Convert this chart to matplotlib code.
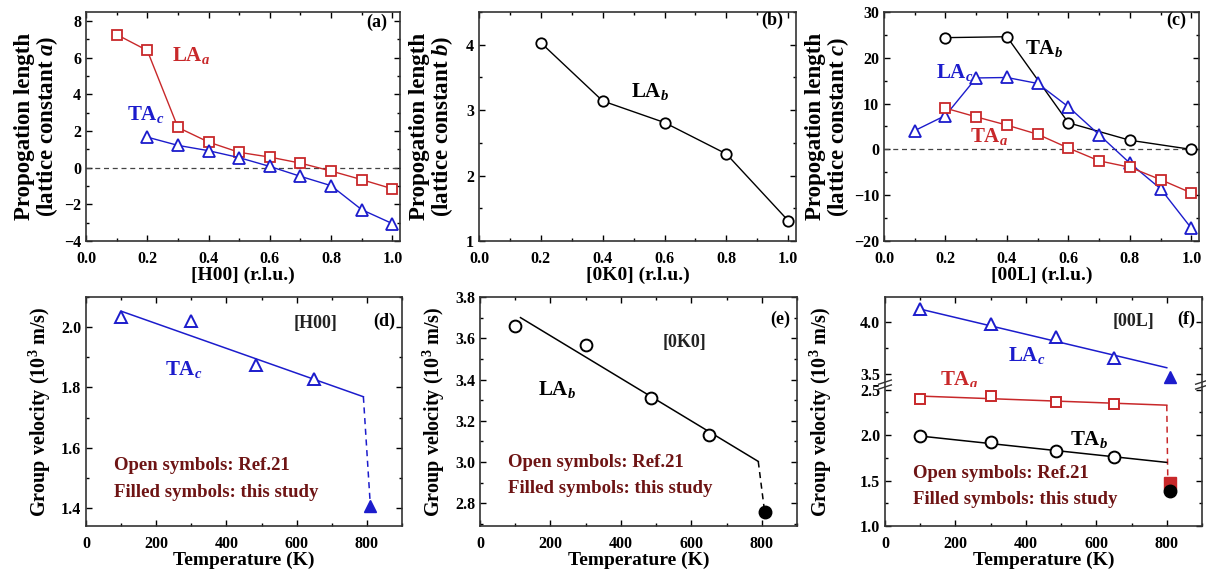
import numpy as np
import matplotlib.pyplot as plt
from matplotlib.ticker import MultipleLocator

plt.rcParams['font.family'] = ['Liberation Serif', 'DejaVu Serif']
plt.rcParams['font.weight'] = 'bold'
plt.rcParams['mathtext.fontset'] = 'custom'
plt.rcParams['mathtext.rm'] = 'Liberation Serif:bold'
plt.rcParams['mathtext.it'] = 'Liberation Serif:bold:italic'
plt.rcParams['mathtext.bf'] = 'Liberation Serif:bold'

RED = '#c8282a'
BLUE = '#1c1ccc'
NOTE = '#6e1414'

# propagation length vs wave vector
q_a_la = [0.1, 0.2, 0.3, 0.4, 0.5, 0.6, 0.7, 0.8, 0.9, 1.0]
la_a = [7.27, 6.4, 2.2, 1.4, 0.84, 0.58, 0.25, -0.18, -0.65, -1.15]
q_a_ta = [0.2, 0.3, 0.4, 0.5, 0.6, 0.7, 0.8, 0.9, 1.0]
ta_c_h00 = [1.67, 1.22, 0.93, 0.55, 0.07, -0.47, -0.98, -2.29, -3.05]

q_b = [0.2, 0.4, 0.6, 0.8, 1.0]
la_b = [4.03, 3.14, 2.81, 2.33, 1.31]

q_c_tb = [0.2, 0.4, 0.6, 0.8, 1.0]
ta_b = [24.4, 24.6, 5.8, 2.0, 0.0]
q_c_la = [0.1, 0.2, 0.3, 0.4, 0.5, 0.6, 0.7, 0.8, 0.9, 1.0]
la_c = [4.1, 7.4, 15.6, 15.7, 14.4, 9.3, 3.2, -3.0, -8.6, -17.2]
q_c_ta = [0.2, 0.3, 0.4, 0.5, 0.6, 0.7, 0.8, 0.9, 1.0]
ta_a = [9.0, 7.1, 5.3, 3.3, 0.3, -2.5, -3.9, -6.6, -9.5]

# group velocity vs temperature
T_open = [100, 300, 485, 650]
T_fit = [100, 790]
T_filled = 810

vg_ta_c = [2.033, 2.022, 1.875, 1.828]
fit_ta_c = [2.053, 1.769]
new_ta_c = 1.405

vg_la_b = [3.658, 3.565, 3.311, 3.131]
fit_la_b = [3.70, 3.003]
new_la_b = 2.76

vg_la_c = [4.117, 3.978, 3.851, 3.658]
fit_la_c = [4.12, 3.563]
new_la_c = 3.478
vg_ta_a = [2.40, 2.434, 2.37, 2.34]
fit_ta_a = [2.43, 2.33]
new_ta_a = 1.477
vg_ta_b = [1.99, 1.92, 1.83, 1.76]
fit_ta_b = [1.99, 1.70]
new_ta_b = 1.388

W, H = 1206, 572
fig = plt.figure(figsize=(W / 100, H / 100), dpi=100)


def box(l, t, r, b):
    return [l / W, 1 - b / H, (r - l) / W, (b - t) / H]


def style(ax, xmaj, xmin, ymaj, ymin, top=True, bottom=True):
    ax.xaxis.set_major_locator(MultipleLocator(xmaj))
    ax.xaxis.set_minor_locator(MultipleLocator(xmin))
    ax.yaxis.set_major_locator(MultipleLocator(ymaj))
    ax.yaxis.set_minor_locator(MultipleLocator(ymin))
    ax.tick_params(which='both', direction='in', top=top, bottom=bottom,
                   right=True, left=True, labelsize=11.5, width=1)
    ax.tick_params(which='major', length=4)
    ax.tick_params(which='minor', length=2)
    ax.tick_params(axis='x', pad=7)
    for s in ax.spines.values():
        s.set_linewidth(1.2)
        s.set_color('#333333')


def qlabels(ax, name):
    ax.set_xlim(0, 1.025)
    ax.set_xticks(np.arange(0, 1.01, 0.2))
    ax.set_xticklabels(['%.1f' % v for v in np.arange(0, 1.01, 0.2)])
    ax.set_xlabel(name + ' (r.l.u.)', fontsize=14, fontweight='bold', labelpad=0)


line_kw = dict(lw=1.0)
YL = 16.5

# (a)
ax = fig.add_axes(box(86, 12, 400, 241))
ax.axhline(0, color='#444444', lw=0.9, ls=(0, (4, 3)))
ax.plot(q_a_la, la_a, color=RED, marker='s', mfc='white', mec=RED, ms=7, mew=1.3, **line_kw)
ax.plot(q_a_ta, ta_c_h00, color=BLUE, marker='^', mfc='white', mec=BLUE, ms=8, mew=1.3, **line_kw)
ax.set_ylim(-4, 8.5)
style(ax, 0.2, 0.1, 2, 1)
qlabels(ax, '[H00]')
ax.set_ylabel('Propogation length\n(lattice constant $a$)', fontsize=YL, fontweight='bold',
              linespacing=0.95, labelpad=3)
ax.text(0.28, 5.8, r'LA$_{\it{a}}$', color=RED, fontsize=15, fontweight='bold')
ax.text(0.135, 2.6, r'TA$_{\it{c}}$', color=BLUE, fontsize=15, fontweight='bold')
ax.text(0.985, 7.7, '(a)', ha='right', fontsize=13, fontweight='bold')

# (b)
ax = fig.add_axes(box(479, 12, 796, 241))
ax.plot(q_b, la_b, color='black', marker='o', mfc='white', mec='black', ms=7.5, mew=1.3, **line_kw)
ax.set_ylim(1, 4.5)
style(ax, 0.2, 0.1, 1, 0.5)
qlabels(ax, '[0K0]')
ax.set_ylabel('Propogation length\n(lattice constant $b$)', fontsize=YL, fontweight='bold',
              linespacing=0.95, labelpad=8)
ax.text(0.49, 3.2, r'LA$_{\it{b}}$', color='black', fontsize=15, fontweight='bold')
ax.text(0.985, 4.3, '(b)', ha='right', fontsize=13, fontweight='bold')

# (c)
ax = fig.add_axes(box(884, 12, 1199, 241))
ax.axhline(0, color='#444444', lw=0.9, ls=(0, (4, 3)))
ax.plot(q_c_tb, ta_b, color='black', marker='o', mfc='white', mec='black', ms=7.5, mew=1.3, **line_kw)
ax.plot(q_c_la, la_c, color=BLUE, marker='^', mfc='white', mec=BLUE, ms=8, mew=1.3, **line_kw)
ax.plot(q_c_ta, ta_a, color=RED, marker='s', mfc='white', mec=RED, ms=7, mew=1.3, **line_kw)
ax.set_ylim(-20, 30)
style(ax, 0.2, 0.1, 10, 5)
qlabels(ax, '[00L]')
ax.set_ylabel('Propogation length\n(lattice constant $c$)', fontsize=YL, fontweight='bold',
              linespacing=0.95, labelpad=2)
ax.text(0.46, 20.8, r'TA$_{\it{b}}$', color='black', fontsize=15, fontweight='bold')
ax.text(0.17, 15.6, r'LA$_{\it{c}}$', color=BLUE, fontsize=15, fontweight='bold')
ax.text(0.28, 1.6, r'TA$_{\it{a}}$', color=RED, fontsize=15, fontweight='bold')
ax.text(0.985, 27.2, '(c)', ha='right', fontsize=13, fontweight='bold')


def tlabels(ax):
    ax.set_xlim(0, 900)
    ax.set_xlabel('Temperature (K)', fontsize=14, fontweight='bold', labelpad=0)


vlabel = r'Group velocity (10$^{\mathbf{3}}$ m/s)'
VL = 14.5


def notes(ax, y1, y2):
    ax.text(80, y1, 'Open symbols: Ref.21', color=NOTE, fontsize=13.5, fontweight='bold', va='center')
    ax.text(80, y2, 'Filled symbols: this study', color=NOTE, fontsize=13.5, fontweight='bold', va='center')


# (d)
ax = fig.add_axes(box(86, 297, 402, 526))
ax.plot(T_fit, fit_ta_c, color=BLUE, lw=1.1)
ax.plot([T_fit[1], T_filled], [fit_ta_c[1], new_ta_c], color=BLUE, lw=1.1, ls=(0, (4, 3)))
ax.plot(T_open, vg_ta_c, ls='none', marker='^', mfc='white', mec=BLUE, ms=9, mew=1.4)
ax.plot([T_filled], [new_ta_c], ls='none', marker='^', color=BLUE, ms=9)
ax.set_ylim(1.34, 2.10)
style(ax, 200, 100, 0.2, 0.1)
tlabels(ax)
ax.set_ylabel(vlabel, fontsize=VL, fontweight='bold', labelpad=6)
ax.text(225, 1.86, r'TA$_{\it{c}}$', color=BLUE, fontsize=15, fontweight='bold', va='center')
ax.text(653, 2.013, '[H00]', ha='center', va='center', fontsize=13, fontweight='bold', color='#222222')
ax.text(880, 2.02, '(d)', ha='right', va='center', fontsize=13, fontweight='bold')
notes(ax, 1.54, 1.45)

# (e)
ax = fig.add_axes(box(480, 297, 797, 526))
ax.plot([115, T_fit[1]], fit_la_b, color='black', lw=1.1)
ax.plot([T_fit[1], T_filled - 2], [fit_la_b[1], new_la_b], color='black', lw=1.1, ls=(0, (4, 3)))
ax.plot(T_open, vg_la_b, ls='none', marker='o', mfc='white', mec='black', ms=8.5, mew=1.4)
ax.plot([T_filled - 2], [new_la_b], ls='none', marker='o', color='black', ms=9)
ax.set_ylim(2.69, 3.8)
style(ax, 200, 100, 0.2, 0.1)
tlabels(ax)
ax.set_yticks(np.arange(2.8, 3.81, 0.2))
ax.set_yticklabels(['%.1f' % v for v in np.arange(2.8, 3.81, 0.2)])
ax.set_ylabel(vlabel, fontsize=VL, fontweight='bold', labelpad=6)
ax.text(165, 3.35, r'LA$_{\it{b}}$', color='black', fontsize=15, fontweight='bold', va='center')
ax.text(580, 3.58, '[0K0]', ha='center', va='center', fontsize=13, fontweight='bold', color='#222222')
ax.text(880, 3.69, '(e)', ha='right', va='center', fontsize=13, fontweight='bold')
notes(ax, 3.0, 2.87)

# (f) broken y axis
ax_u = fig.add_axes(box(885, 297, 1202, 387))
ax_l = fig.add_axes(box(885, 387, 1202, 526))
ax_u.plot([T_fit[0], 800], fit_la_c, color=BLUE, lw=1.1)
ax_u.plot(T_open, vg_la_c, ls='none', marker='^', mfc='white', mec=BLUE, ms=9, mew=1.4)
ax_u.plot([T_filled], [new_la_c], ls='none', marker='^', color=BLUE, ms=9)
ax_u.set_ylim(3.38, 4.235)
ax_l.plot([T_fit[0], 800], fit_ta_a, color=RED, lw=1.1)
ax_l.plot([800, 803], [fit_ta_a[1], new_ta_a], color=RED, lw=1.1, ls=(0, (4, 3)))
ax_l.plot([T_fit[0], 800], fit_ta_b, color='black', lw=1.1)
ax_l.plot(T_open, vg_ta_a, ls='none', marker='s', mfc='white', mec=RED, ms=7.5, mew=1.4)
ax_l.plot(T_open, vg_ta_b, ls='none', marker='o', mfc='white', mec='black', ms=8.5, mew=1.4)
ax_l.plot([T_filled], [new_ta_a], ls='none', marker='s', color=RED, ms=8)
ax_l.plot([T_filled], [new_ta_b], ls='none', marker='o', color='black', ms=9)
ax_l.set_ylim(1.0, 2.53)
for a in (ax_u, ax_l):
    a.set_xlim(0, 900)
style(ax_u, 200, 100, 0.5, 0.25, top=True, bottom=False)
style(ax_l, 200, 100, 0.5, 0.25, top=False, bottom=True)
ax_u.spines['bottom'].set_visible(False)
ax_l.spines['top'].set_visible(False)
ax_u.tick_params(labelbottom=False)
ax_l.set_xlabel('Temperature (K)', fontsize=14, fontweight='bold', labelpad=0)
ax_l.set_ylabel(vlabel, fontsize=VL, fontweight='bold', labelpad=6)
ax_l.yaxis.set_label_coords(-0.16, 0.82)
for xa in (0, 1):
    ax_l.plot([xa - 0.02, xa + 0.02], [0.985, 1.015], transform=ax_l.transAxes,
              color='#333333', lw=1.0, clip_on=False)
    ax_l.plot([xa - 0.02, xa + 0.02], [1.02, 1.05], transform=ax_l.transAxes,
              color='#333333', lw=1.0, clip_on=False)
ax_u.text(350, 3.68, r'LA$_{\it{c}}$', color=BLUE, fontsize=15, fontweight='bold', va='center')
ax_u.text(156, 3.45, r'TA$_{\it{a}}$', color=RED, fontsize=15, fontweight='bold', va='center',
          clip_on=False)
ax_l.text(525, 1.95, r'TA$_{\it{b}}$', color='black', fontsize=15, fontweight='bold', va='center')
ax_u.text(705, 4.0, '[00L]', ha='center', va='center', fontsize=13, fontweight='bold', color='#222222')
ax_u.text(880, 4.02, '(f)', ha='right', va='center', fontsize=13, fontweight='bold')
notes(ax_l, 1.58, 1.29)

fig.savefig('out.png', dpi=100)
